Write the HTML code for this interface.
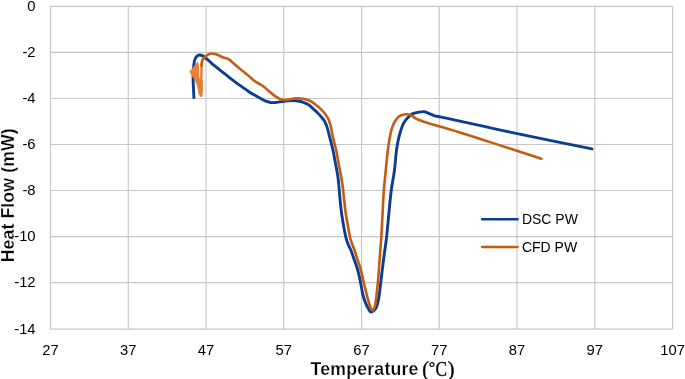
<!DOCTYPE html>
<html><head><meta charset="utf-8">
<style>
html,body{margin:0;padding:0;background:#fff;}
body{width:685px;height:379px;overflow:hidden;position:relative;font-family:"Liberation Sans", sans-serif;}
svg{position:absolute;left:0;top:0;will-change:transform;}
.t{font-family:"Liberation Sans", sans-serif;font-size:14.8px;fill:#000;}
.lg{font-family:"Liberation Sans", sans-serif;font-size:14px;fill:#000;}
.ttl{font-family:"Liberation Sans", sans-serif;font-size:17.7px;font-weight:bold;fill:#000;stroke:#fff;stroke-width:0.25px;letter-spacing:0.2px;}
</style></head><body>
<svg width="685" height="379" viewBox="0 0 685 379">
<g stroke="#c6c6c6" stroke-width="1.1" fill="none">
<path d="M50.50 6.33H672.58M50.50 52.38H672.58M50.50 98.44H672.58M50.50 144.44H672.58M50.50 190.54H672.58M50.50 236.63H672.58M50.50 282.63H672.58M50.50 329.17H672.58"/>
<path d="M50.50 6.33V329.17M128.26 6.33V329.17M206.02 6.33V329.17M283.78 6.33V329.17M361.54 6.33V329.17M439.30 6.33V329.17M517.06 6.33V329.17M594.82 6.33V329.17M672.58 6.33V329.17"/>
</g>
<text class="ttl" x="310.6" y="374.5">Temperature</text>
<text class="ttl" transform="translate(13.8 262.3) rotate(-90)" x="0" y="0" style="letter-spacing:0.1px">Heat Flow (mW)</text>
<g class="t" text-anchor="end">
<text x="35.6" y="10.9">0</text>
<text x="35.6" y="57.0">-2</text>
<text x="35.6" y="103.0">-4</text>
<text x="35.6" y="149.0">-6</text>
<text x="35.6" y="195.1">-8</text>
<text x="35.6" y="241.2">-10</text>
<text x="35.6" y="287.2">-12</text>
<text x="35.6" y="333.8">-14</text>
</g>
<g class="t" text-anchor="middle">
<text x="50.50" y="354.8">27</text>
<text x="128.26" y="354.8">37</text>
<text x="206.02" y="354.8">47</text>
<text x="283.78" y="354.8">57</text>
<text x="361.54" y="354.8">67</text>
<text x="439.30" y="354.8">77</text>
<text x="517.06" y="354.8">87</text>
<text x="594.82" y="354.8">97</text>
<text x="672.58" y="354.8">107</text>
</g>
<g style="font-family:'Liberation Serif', serif;font-size:20px;fill:#000;stroke:#000;stroke-width:0.35">
<text x="422.3" y="376.3">(</text>
<text x="428.7" y="372.6" style="font-size:16px">°</text>
<text transform="translate(435.5 375.5) scale(0.86 1)">C</text>
<text x="447.8" y="376.3">)</text>
</g>

<!-- DSC blue -->
<path fill="none" stroke="#0c3d90" stroke-width="2.9" stroke-linejoin="round" stroke-linecap="round" d="M193.90 97.60C193.70 93.40 193.44 89.20 193.30 85.00C193.20 81.80 193.03 78.60 193.10 75.40C193.17 72.26 193.28 69.11 193.70 66.00C193.99 63.82 194.04 61.49 194.90 59.50C195.39 58.38 195.90 57.07 196.80 56.30C197.55 55.66 198.63 55.09 199.60 55.00C200.47 54.92 201.47 55.24 202.30 55.60C203.31 56.03 204.11 56.92 205.00 57.60C206.19 58.51 207.37 59.42 208.50 60.40C209.57 61.33 210.55 62.36 211.60 63.30C213.72 65.19 215.98 66.92 218.20 68.70C220.38 70.45 222.61 72.16 224.80 73.90C227.01 75.66 229.17 77.48 231.40 79.20C233.57 80.87 235.77 82.51 238.00 84.10C240.17 85.64 242.41 87.08 244.60 88.60C246.41 89.85 248.14 91.23 250.00 92.40C251.72 93.48 253.53 94.40 255.30 95.40C257.00 96.37 258.69 97.35 260.40 98.30C262.19 99.29 263.91 100.47 265.80 101.20C267.49 101.85 269.30 102.40 271.10 102.60C272.87 102.79 274.71 102.56 276.50 102.40C278.31 102.23 280.10 101.85 281.90 101.60C283.70 101.35 285.49 101.08 287.30 100.90C289.09 100.72 290.90 100.48 292.70 100.50C294.47 100.52 296.25 100.71 298.00 101.00C299.82 101.30 301.66 101.69 303.40 102.30C305.27 102.96 307.16 103.80 308.80 104.90C310.34 105.93 311.61 107.36 313.00 108.60C314.34 109.79 315.72 110.95 317.00 112.20C318.43 113.60 319.80 115.07 321.10 116.60C322.22 117.92 323.41 119.23 324.30 120.70C325.11 122.04 325.70 123.54 326.30 125.00C327.96 129.02 328.68 133.39 329.80 137.60C330.92 141.82 332.06 146.04 333.00 150.30C333.92 154.47 334.62 158.70 335.40 162.90C336.18 167.10 337.09 171.28 337.70 175.50C338.15 178.59 338.48 181.70 338.80 184.80C339.25 189.16 339.48 193.54 339.90 197.90C340.44 203.51 341.00 209.12 341.80 214.70C342.41 218.95 343.12 223.18 343.90 227.40C344.55 230.91 345.04 234.47 346.00 237.90C346.67 240.30 347.44 242.70 348.40 245.00C349.11 246.70 350.06 248.31 350.80 250.00C352.29 253.43 353.26 257.07 354.50 260.60C355.36 263.07 356.33 265.50 357.10 268.00C357.95 270.76 358.65 273.58 359.30 276.40C359.86 278.85 360.33 281.33 360.80 283.80C361.19 285.86 361.49 287.94 361.90 290.00C362.37 292.35 362.83 294.71 363.50 297.00C364.09 299.03 364.79 301.05 365.60 303.00C366.42 304.98 367.25 307.00 368.40 308.80C369.12 309.92 369.76 311.90 370.80 312.00C371.52 312.07 372.55 311.31 373.30 310.80C374.26 310.15 375.11 309.22 375.80 308.30C377.29 306.29 377.59 303.48 378.20 301.00C378.84 298.38 379.12 295.67 379.50 293.00C380.03 289.35 380.36 285.67 380.80 282.00C381.68 274.66 382.56 267.33 383.50 260.00C384.49 252.29 385.71 244.62 386.60 236.90C387.56 228.62 388.16 220.30 389.00 212.00C389.74 204.66 390.33 197.31 391.30 190.00C392.19 183.31 393.63 176.69 394.50 170.00C395.36 163.36 395.52 156.63 396.50 150.00C396.89 147.39 397.28 144.78 397.80 142.20C398.51 138.67 399.30 135.13 400.40 131.70C401.33 128.78 402.16 125.73 403.70 123.10C404.81 121.21 406.18 119.39 407.70 117.80C409.08 116.36 410.57 114.81 412.30 113.90C414.09 112.96 416.27 112.67 418.30 112.30C420.24 111.95 422.29 111.43 424.20 111.70C425.77 111.92 427.29 112.72 428.80 113.30C430.60 113.99 432.27 115.02 434.10 115.60C436.00 116.20 438.03 116.40 440.00 116.80C463.40 121.59 486.64 127.14 510.00 132.10C537.29 137.89 564.67 143.30 592.00 148.90"/>

<!-- CFD spike -->
<path d="M189.9 71.7L196.9 62.7L197.8 62.2L198.4 66L199 78L200.5 80L202.3 80L202.4 90L201.6 96.4L200.3 96.6L198.9 93.2L197.3 85.3L195.2 80L192.2 75.9Z" fill="#ea7e34" stroke="#ea7e34" stroke-width="0.8" stroke-linejoin="round"/>
<polyline fill="none" stroke="#e57a30" stroke-width="2.4" stroke-linecap="round" points="201.2,95.5 201.3,80 201.6,64"/>
<!-- CFD orange -->
<path fill="none" stroke="#c55a11" stroke-width="2.6" stroke-linejoin="round" stroke-linecap="round" d="M201.60 66.00C201.70 64.67 201.57 63.28 201.90 62.00C202.14 61.07 202.49 60.11 203.00 59.30C203.47 58.55 204.17 57.94 204.80 57.30C205.68 56.41 206.55 55.45 207.60 54.80C208.34 54.34 209.15 53.91 210.00 53.70C210.52 53.57 211.07 53.52 211.60 53.50C212.90 53.44 214.24 53.76 215.50 54.10C216.88 54.47 218.18 55.13 219.50 55.70C220.85 56.29 222.12 57.11 223.50 57.60C224.76 58.05 226.18 58.08 227.40 58.60C228.16 58.93 228.90 59.35 229.60 59.80C231.24 60.85 232.53 62.41 234.00 63.70C235.76 65.24 237.49 66.82 239.30 68.30C241.03 69.71 242.86 71.00 244.60 72.40C246.36 73.83 248.08 75.32 249.80 76.80C251.58 78.32 253.15 80.13 255.10 81.40C256.21 82.12 257.45 82.63 258.60 83.30C260.45 84.38 262.29 85.51 264.00 86.80C265.88 88.22 267.50 89.97 269.30 91.50C271.07 93.00 272.79 94.59 274.70 95.90C276.14 96.89 277.61 97.90 279.20 98.60C280.63 99.23 282.17 99.82 283.70 100.00C285.46 100.21 287.32 99.79 289.10 99.50C290.61 99.25 292.08 98.70 293.60 98.50C295.05 98.31 296.53 98.29 298.00 98.30C299.80 98.31 301.64 98.34 303.40 98.70C304.97 99.02 306.50 99.62 308.00 100.20C309.18 100.65 310.39 101.10 311.50 101.70C313.04 102.54 314.41 103.71 315.80 104.80C317.64 106.24 319.45 107.75 321.10 109.40C322.60 110.90 324.05 112.49 325.30 114.20C326.50 115.83 327.64 117.57 328.50 119.40C329.33 121.17 329.84 123.11 330.40 125.00C331.62 129.10 332.04 133.42 333.00 137.60C333.97 141.85 335.28 146.04 336.20 150.30C337.10 154.47 337.72 158.70 338.50 162.90C339.28 167.10 340.14 171.29 340.90 175.50C341.46 178.60 342.05 181.69 342.50 184.80C343.13 189.14 343.40 193.54 343.90 197.90C344.54 203.51 345.15 209.12 346.00 214.70C346.65 218.95 347.41 223.18 348.20 227.40C348.98 231.54 349.49 235.77 350.70 239.80C351.23 241.55 351.86 243.28 352.50 245.00C353.13 246.68 353.88 248.32 354.50 250.00C355.77 253.46 356.54 257.10 357.70 260.60C358.52 263.08 359.54 265.50 360.30 268.00C361.13 270.76 361.75 273.59 362.40 276.40C362.97 278.86 363.41 281.35 364.00 283.80C364.50 285.88 365.08 287.93 365.60 290.00C366.18 292.33 366.68 294.68 367.30 297.00C367.97 299.52 368.63 302.05 369.50 304.50C370.02 305.95 370.41 307.49 371.20 308.80C371.58 309.43 372.08 310.46 372.50 310.60C373.20 310.83 373.99 308.60 374.50 307.50C375.42 305.53 375.43 303.18 375.80 301.00C376.36 297.69 376.63 294.34 377.00 291.00C377.37 287.67 377.69 284.34 378.00 281.00C378.65 274.01 379.07 267.00 379.60 260.00C380.18 252.33 380.81 244.67 381.30 237.00C381.81 229.01 382.16 221.00 382.60 213.00C383.02 205.33 383.31 197.65 383.90 190.00C384.41 183.32 385.13 176.66 385.80 170.00C386.47 163.33 387.01 156.64 387.90 150.00C388.49 145.62 389.02 141.22 389.90 136.90C390.62 133.37 391.16 129.72 392.50 126.40C393.39 124.19 394.38 121.90 395.80 120.00C396.93 118.49 398.18 116.83 399.80 115.90C400.77 115.34 401.90 114.97 403.00 114.70C404.10 114.43 405.27 114.28 406.40 114.30C407.94 114.32 409.58 114.63 411.00 115.20C412.70 115.88 413.98 117.48 415.60 118.40C417.67 119.58 419.97 120.36 422.20 121.20C425.65 122.49 429.25 123.38 432.80 124.40C435.19 125.09 437.60 125.73 440.00 126.40C463.56 133.03 486.69 141.12 510.00 148.60C520.44 151.95 530.87 155.33 541.30 158.70"/>

<!-- legend -->
<line x1="482.2" y1="219.2" x2="517.5" y2="219.2" stroke="#0c3d90" stroke-width="2.5" stroke-linecap="round"/>
<line x1="482.2" y1="247.1" x2="517.5" y2="247.1" stroke="#c55a11" stroke-width="2.5" stroke-linecap="round"/>
<text class="lg" x="521.9" y="223.9">DSC PW</text>
<text class="lg" x="521.9" y="251.9">CFD PW</text>
</svg>
</body></html>
